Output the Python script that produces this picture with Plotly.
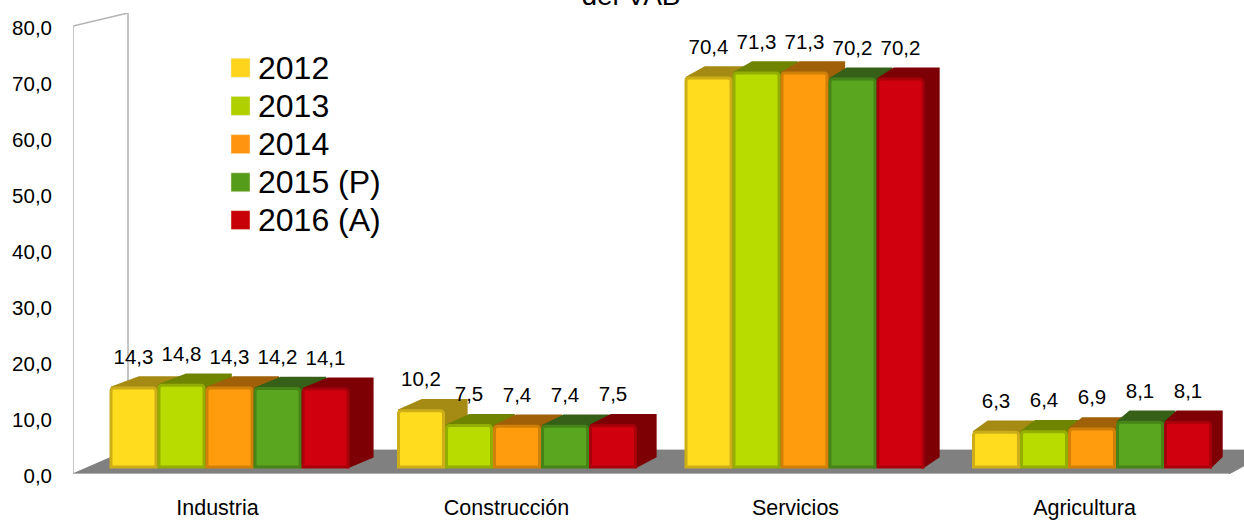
import plotly.graph_objects as go

categories = ["Industria", "Construcción", "Servicios", "Agricultura"]
series_names = ["2012", "2013", "2014", "2015 (P)", "2016 (A)"]
v2012 = [14.3, 10.2, 70.4, 6.3]
v2013 = [14.8, 7.5, 71.3, 6.4]
v2014 = [14.3, 7.4, 71.3, 6.9]
v2015 = [14.2, 7.4, 70.2, 8.1]
v2016 = [14.1, 7.5, 70.2, 8.1]
series_values = [v2012, v2013, v2014, v2015, v2016]
title_text = "del VAB"

front = ["#FFDD1E", "#B9DC00", "#FF9C0E", "#5AA61E", "#D0000E"]
edge = ["#CDAE18", "#93AE00", "#D08008", "#468418", "#A8000A"]
dark = ["#A58A14", "#6F8400", "#A06008", "#366018", "#7D0005"]
swatch = ["#FFD41C", "#B0D000", "#FF9410", "#559C1A", "#C80008"]

FONT = "Liberation Sans"
W, H = 1244, 520
L, R, T, B = 73, 1244, 13, 476
PW, PH = R - L, B - T

GROUP_PX, PITCH_PX, BAR_PX = 287.5, 48.0, 45.0
Y_PX = 5.55
BASE_PX = 7.0
DY_PX = 10.5
C0 = 229.5
x2_range = [(L - C0) / GROUP_PX, (R - C0) / GROUP_PX]
y2_range = [-BASE_PX / Y_PX, (PH - BASE_PX) / Y_PX]
x_main_range = [0, PW / 289.0]
y_main_range = [0, PH / 5.625]
pitch = PITCH_PX / GROUP_PX
bw = BAR_PX / GROUP_PX
dy = DY_PX / Y_PX


def depth(x):
    """Horizontal depth shift of a bar edge: it narrows to the right, as in the reference's perspective."""
    px = C0 + x * GROUP_PX
    return (28 - 0.0155 * (px - 112)) / GROUP_PX


fig = go.Figure()

wx_per_px = x_main_range[1] / PW
wy_per_px = y_main_range[1] / PH
wall_dx = 55 * wx_per_px
floor_dy = 24 * wy_per_px
wall_x = [0, 0, wall_dx, wall_dx, 0]
wall_y = [0, 80, y_main_range[1], floor_dy, 0]
fig.add_trace(go.Scatter(x=wall_x, y=wall_y, mode="lines", fill="toself", fillcolor="white",
                         line=dict(color="#B4B4B4", width=1.5), hoverinfo="skip", showlegend=False))
floor_x = [0, wall_dx, x_main_range[1] + 0.1, 4, 0]
floor_y = [0, floor_dy, floor_dy, 0, 0]
fig.add_trace(go.Scatter(x=floor_x, y=floor_y, mode="lines", fill="toself", fillcolor="#808080",
                         line=dict(color="#808080", width=1), hoverinfo="skip", showlegend=False))
fig.add_trace(go.Scatter(x=[0, 4], y=[0, 0], mode="lines", line=dict(color="#BDBDBD", width=1.5),
                         hoverinfo="skip", showlegend=False))

for j, vals in enumerate(series_values):
    xs, ys = [], []
    for i, v in enumerate(vals):
        c = i + (j - 2) * pitch
        xl, xr = c - bw / 2, c + bw / 2
        xs += [xl, xl + depth(xl), xr + depth(xr), xr + depth(xr), xr, xl, None]
        ys += [v, v + dy, v + dy, dy, 0, v, None]
    fig.add_trace(go.Scatter(x=xs, y=ys, xaxis="x2", yaxis="y2", mode="lines", fill="toself",
                             fillcolor=dark[j], line=dict(color=dark[j], width=2.5),
                             hoverinfo="skip", showlegend=False))

for j, vals in enumerate(series_values):
    fig.add_trace(go.Bar(x=list(range(len(categories))), y=vals, name=series_names[j],
                         xaxis="x3", yaxis="y3",
                         marker=dict(color=front[j], line=dict(color=edge[j], width=3), cornerradius=3),
                         showlegend=False))

for j, vals in enumerate(series_values):
    fig.add_trace(go.Scatter(x=[i + (j - 2) * pitch for i in range(len(vals))],
                             y=[v + 3.5 for v in vals], xaxis="x3", yaxis="y3", mode="text",
                             text=[f"{v:.1f}".replace(".", ",") for v in vals],
                             textposition="top center",
                             textfont=dict(family=FONT, size=20.5, color="#000000"),
                             hoverinfo="skip", showlegend=False))

shapes, annos = [], []
legend_rows = [68, 106.3, 144.7, 183, 221]
for name, col, py in zip(series_names, swatch, legend_rows):
    shapes.append(dict(type="rect", xref="paper", yref="paper",
                       x0=(231 - L) / PW, x1=(250 - L) / PW,
                       y0=(B - py - 9.5) / PH, y1=(B - py + 9.5) / PH,
                       fillcolor=col, line=dict(color="#EFE9C8", width=0.5)))
    annos.append(dict(text=name, xref="paper", yref="paper", x=(256 - L) / PW, y=(B - py) / PH,
                      xanchor="left", yanchor="middle", showarrow=False,
                      font=dict(family=FONT, size=32, color="#000000")))

fig.update_layout(
    width=W, height=H, autosize=False,
    margin=dict(l=L, r=W - R, t=T, b=H - B, pad=0),
    paper_bgcolor="white", plot_bgcolor="white",
    separators=",.",
    barmode="group", bargap=1 - 5 * PITCH_PX / GROUP_PX, bargroupgap=(PITCH_PX - BAR_PX) / PITCH_PX,
    showlegend=False,
    title=dict(text=title_text, x=631 / W, xanchor="center", y=0.99, yref="container", yanchor="bottom",
               font=dict(family=FONT, size=28, color="#000000")),
    shapes=shapes, annotations=annos,
    xaxis=dict(range=x_main_range, tickmode="array", tickvals=[i + 0.5 for i in range(4)], ticktext=categories,
               showgrid=False, zeroline=False, showline=False, ticks="", ticklabelstandoff=18,
               tickfont=dict(family=FONT, size=21.5, color="#000000")),
    yaxis=dict(range=y_main_range, tickmode="array", tickvals=list(range(0, 81, 10)), tickformat=".1f",
               showgrid=False, zeroline=False, showline=False, ticks="", ticklabelstandoff=20,
               ticklabelshift=2, tickfont=dict(family=FONT, size=20.5, color="#000000")),
    xaxis2=dict(range=x2_range, overlaying="x", visible=False),
    yaxis2=dict(range=y2_range, overlaying="y", visible=False),
    xaxis3=dict(range=x2_range, overlaying="x", visible=False),
    yaxis3=dict(range=y2_range, overlaying="y", visible=False),
)

fig.write_html("out.html", config={"displayModeBar": False}, post_script="document.body.style.margin='0';")
